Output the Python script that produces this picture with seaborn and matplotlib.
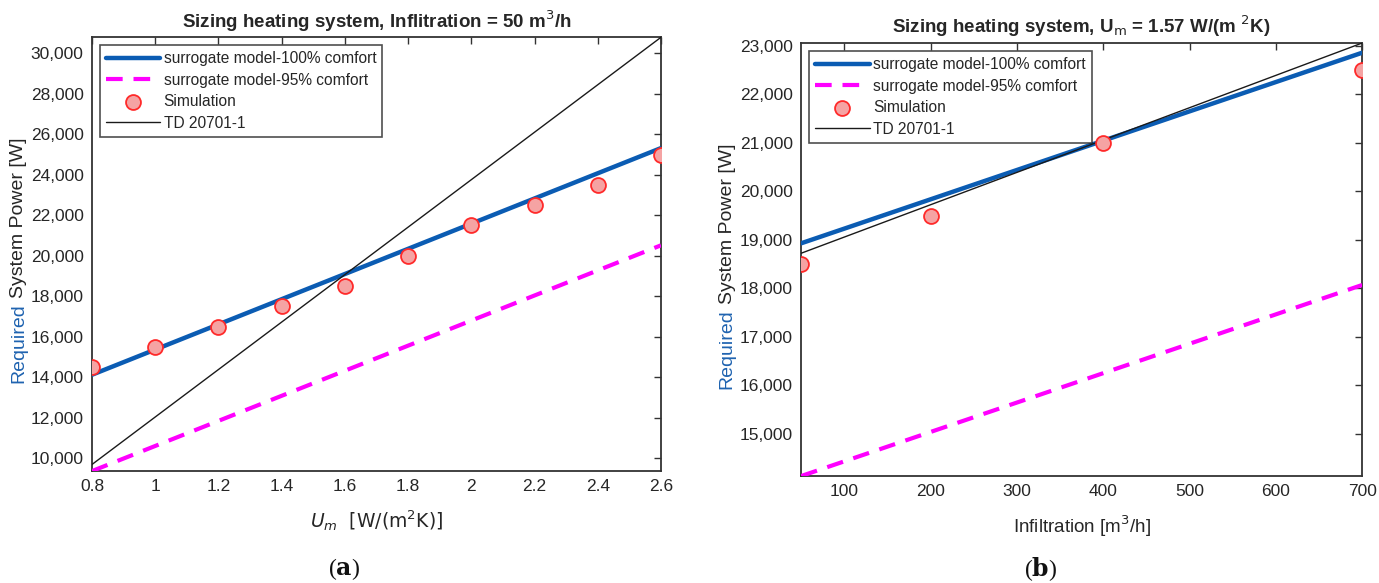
import matplotlib
matplotlib.use("Agg")
import matplotlib.pyplot as plt
import seaborn as sns
import pandas as pd
from matplotlib.ticker import FuncFormatter, FixedLocator

# ---------------- data ----------------
# (a) Infiltration = 50 m3/h
um_sim = [0.8, 1.0, 1.2, 1.4, 1.6, 1.8, 2.0, 2.2, 2.4, 2.6]
sim_a = [14500, 15500, 16500, 17500, 18500, 20000, 21500, 22500, 23500, 25000]
um_line = [0.8, 2.6]
surr100_a = [14130, 25320]
surr95_a = [9375, 20520]
td_a = [9700, 30790]

# (b) Um = 1.57 W/(m2K)
inf_sim = [50, 200, 400, 700]
sim_b = [18500, 19500, 21000, 22500]
inf_line = [50, 700]
surr100_b = [18930, 22860]
surr95_b = [14130, 18070]
td_b = [18725, 23060]

xticks_a = [0.8, 1.0, 1.2, 1.4, 1.6, 1.8, 2.0, 2.2, 2.4, 2.6]
xticklabels_a = ["0.8", "1", "1.2", "1.4", "1.6", "1.8", "2", "2.2", "2.4", "2.6"]
yticks_a = [10000, 12000, 14000, 16000, 18000, 20000, 22000, 24000, 26000, 28000, 30000]
xticks_b = [100, 200, 300, 400, 500, 600, 700]
yticks_b = [15000, 16000, 17000, 18000, 19000, 20000, 21000, 22000, 23000]

labels = ["surrogate model-100% comfort", "surrogate model-95% comfort", "Simulation", "TD 20701-1"]

# ---------------- style ----------------
sns.set_theme(style="white")
plt.rcParams["font.family"] = ["Liberation Sans", "DejaVu Sans"]

BLUE = "#0b5cb3"
MAGENTA = "#ff00ff"
GRAY = "#262626"
SERIF = ["Liberation Serif", "DejaVu Serif"]

fig = plt.figure(figsize=(13.79, 5.83), dpi=100)
ax_a = fig.add_axes([0.0667, 0.192, 0.4126, 0.744])
ax_b = fig.add_axes([0.581, 0.1835, 0.4068, 0.7427])


def draw(ax, xl, s100, s95, td, xs, sim):
    d100 = pd.DataFrame({"x": xl, "y": s100})
    d95 = pd.DataFrame({"x": xl, "y": s95})
    dtd = pd.DataFrame({"x": xl, "y": td})
    dsim = pd.DataFrame({"x": xs, "y": sim})
    sns.lineplot(data=d100, x="x", y="y", ax=ax, color=BLUE, lw=3.2, label=labels[0], zorder=3)
    sns.lineplot(data=d95, x="x", y="y", ax=ax, color=MAGENTA, lw=3.0, label=labels[1],
                 dashes=False, zorder=3)
    ax.lines[-1].set_dashes([4, 2.6])
    sns.scatterplot(data=dsim, x="x", y="y", ax=ax, s=115, facecolor="#f5a3a3",
                    edgecolor="#ff2a2a", linewidth=1.3, label=labels[2], zorder=5)
    sns.lineplot(data=dtd, x="x", y="y", ax=ax, color="#1a1a1a", lw=1.0, label=labels[3], zorder=4)
    allv = s100 + s95 + td + sim
    ax.set_ylim(min(allv), max(allv))
    ax.set_xlim(min(xl), max(xl))
    for sp in ax.spines.values():
        sp.set_visible(True)
        sp.set_color("#333333")
        sp.set_linewidth(1.3)
    ax.tick_params(direction="in", length=5, width=1.0, top=True, right=True,
                   labelsize=12.5, colors="#333333", labelcolor=GRAY, pad=6)
    ax.yaxis.set_major_formatter(FuncFormatter(lambda v, p: f"{int(v):,}"))
    leg = ax.legend(loc="upper left", fontsize=11.2, frameon=True, fancybox=False,
                    edgecolor="#222222", handlelength=3.5, handletextpad=0.2,
                    borderpad=0.4, labelspacing=0.42, borderaxespad=0.5)
    leg.get_frame().set_linewidth(1.2)
    for t in leg.get_texts():
        t.set_color(GRAY)
    ax.set_xlabel("")
    ax.set_ylabel("")


draw(ax_a, um_line, surr100_a, surr95_a, td_a, um_sim, sim_a)
draw(ax_b, inf_line, surr100_b, surr95_b, td_b, inf_sim, sim_b)

ax_a.xaxis.set_major_locator(FixedLocator(xticks_a))
ax_a.set_xticklabels(xticklabels_a)
ax_a.yaxis.set_major_locator(FixedLocator(yticks_a))
ax_b.xaxis.set_major_locator(FixedLocator(xticks_b))
ax_b.yaxis.set_major_locator(FixedLocator(yticks_b))

ax_a.set_title("Sizing heating system, Inflitration = 50 m$^{\\rm 3}$/h",
               fontsize=13.5, fontweight="bold", color=GRAY, pad=7)
ax_b.set_title("Sizing heating system, U$_{\\rm m}$ = 1.57 W/(m $^{\\rm 2}$K)",
               fontsize=13.5, fontweight="bold", color=GRAY, pad=7)

ax_a.set_xlabel("$U_m$  [W/(m$^{\\rm 2}$K)]", fontsize=13.5, color=GRAY, labelpad=10,
                family=["DejaVu Sans"])
ax_b.set_xlabel("Infiltration [m$^{\\rm 3}$/h]", fontsize=13.5, color=GRAY, labelpad=10)


def ylabel(ax, xfig, yfig):
    t1 = fig.text(xfig, yfig, "Required", rotation=90, ha="center", va="bottom",
                  fontsize=14, color="#1f63b0")
    ax.annotate("System Power [W]", xy=(0.5, 1.0), xycoords=t1, xytext=(0, 4),
                textcoords="offset points", rotation=90, ha="center", va="bottom",
                fontsize=14, color=GRAY, annotation_clip=False)


ylabel(ax_a, 19 / 1379, 1 - 383 / 583)
ylabel(ax_b, 727 / 1379, 1 - 389 / 583)


def panel_label(xc, letter):
    fig.text(xc / 1379, 1 - 569 / 583, f"(${{\\mathbf{{{letter}}}}}$)", fontsize=17,
             family=SERIF, math_fontfamily="dejavuserif",
             ha="center", va="center", color="#111111")


panel_label(344, "a")
panel_label(1041, "b")

fig.savefig("out.png", dpi=100, facecolor="white")
